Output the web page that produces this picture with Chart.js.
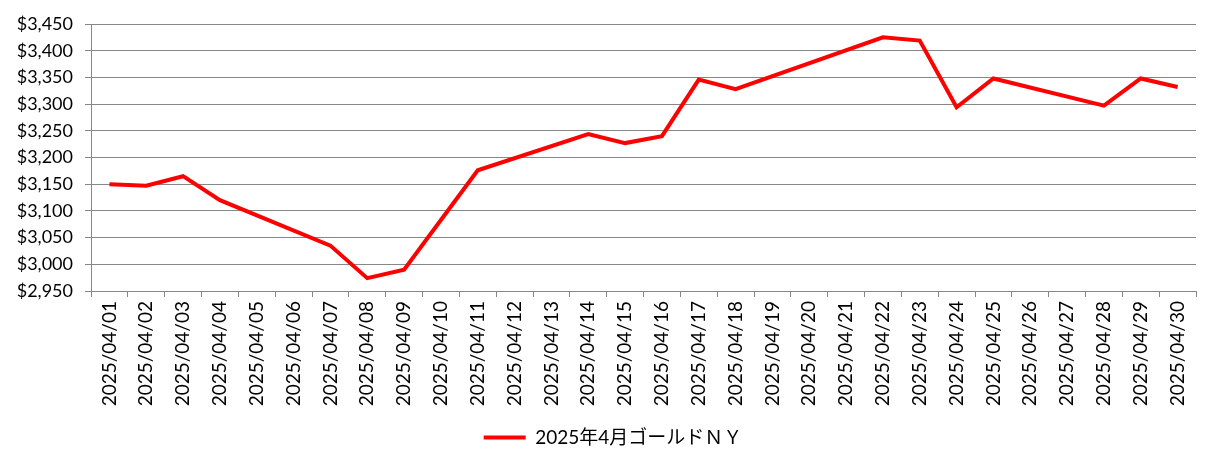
<!DOCTYPE html>
<html>
<head>
<meta charset="utf-8">
<script src="https://cdn.jsdelivr.net/npm/chart.js@4.4.1/dist/chart.umd.min.js"></script>
<style>
  html, body { margin: 0; padding: 0; background: #fff; }
  #wrap { width: 1221px; height: 471px; position: relative; }
</style>
</head>
<body>
<div id="wrap"><canvas id="goldChart"></canvas></div>
<script>
// 2025年4月 ゴールドNY (USD/oz) - 週末・休場日は null
var dayLabels = ["2025/04/01","2025/04/02","2025/04/03","2025/04/04","2025/04/05","2025/04/06","2025/04/07","2025/04/08","2025/04/09","2025/04/10",
                 "2025/04/11","2025/04/12","2025/04/13","2025/04/14","2025/04/15","2025/04/16","2025/04/17","2025/04/18","2025/04/19","2025/04/20",
                 "2025/04/21","2025/04/22","2025/04/23","2025/04/24","2025/04/25","2025/04/26","2025/04/27","2025/04/28","2025/04/29","2025/04/30"];
var goldNY = [3150, 3147, 3165, 3120, null, null, 3035, 2974, 2990, null,
              3176, null, null, 3244, 3227, 3240, 3346, 3328, null, null,
              null, 3425, 3419, 3294, 3348, null, null, 3297, 3348, 3332];
var seriesName = "2025年4月ゴールドＮＹ";
var yMin = 2950, yMax = 3450, yStep = 50;

var gridGray = "#878787";
var fontFam = "Lato, 'Noto Sans CJK JP', sans-serif";

// legend sits a little right of centre in the original
var legendShift = {
  id: "legendShift",
  afterLayout: function (chart) {
    chart.legend.left += 15;
    chart.legend.right += 15;
  }
};

var ctx = document.getElementById("goldChart").getContext("2d");
var myChart = new Chart(ctx, {
  type: "line",
  data: {
    labels: dayLabels,
    datasets: [{
      label: seriesName,
      data: goldNY,
      borderColor: "#ff0000",
      backgroundColor: "#ff0000",
      borderWidth: 4,
      pointRadius: 0,
      pointHoverRadius: 0,
      lineTension: 0,
      spanGaps: true,
      pointStyle: "line"
    }]
  },
  plugins: [legendShift],
  options: {
    responsive: true,
    maintainAspectRatio: false,
    animation: false,
    layout: { padding: { left: 0, right: 25, top: 24, bottom: 14 } },
    plugins: {
      tooltip: { enabled: false },
      legend: {
        position: "bottom",
        labels: {
          usePointStyle: true,
          pointStyleWidth: 42,
          padding: 12,
          color: "#000",
          font: { family: fontFam, size: 19 }
        }
      }
    },
    scales: {
      x: {
        offset: true,
        grid: { offset: true, drawOnChartArea: false, drawTicks: true, tickLength: 6, color: gridGray },
        border: { display: true, color: gridGray },
        ticks: { autoSkip: false, minRotation: 90, maxRotation: 90, color: "#000", padding: 4,
                 font: { family: fontFam, size: 19 } },
        afterFit: function (s) { s.height = 125; }
      },
      y: {
        min: yMin,
        max: yMax,
        grid: { color: gridGray, tickLength: 6 },
        border: { display: true, color: gridGray },
        ticks: {
          stepSize: yStep,
          color: "#000",
          padding: 12,
          font: { family: fontFam, size: 18 },
          callback: function (v) { return "$" + Number(v).toLocaleString("en-US"); }
        },
        afterFit: function (s) { s.width = 91; }
      }
    }
  }
});
</script>
</body>
</html>
